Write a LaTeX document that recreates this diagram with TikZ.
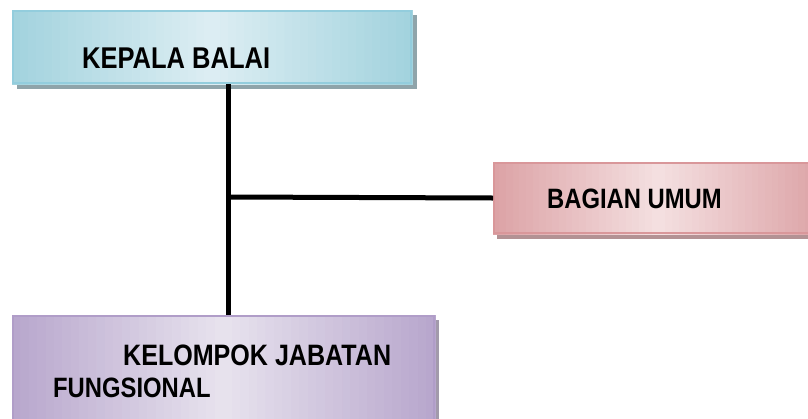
\documentclass[tikz,border=0pt]{standalone}
\usepackage{fontspec}
\setmainfont[FakeStretch=0.85]{Liberation Sans}
\usetikzlibrary{backgrounds,calc}
\definecolor{kepalaedge}{HTML}{93CDDD}
\definecolor{kepalaside}{HTML}{A3D3DE}
\definecolor{kepalamid}{HTML}{DDEEF3}
\definecolor{kepalashadow}{HTML}{8FA4AA}
\definecolor{umumedge}{HTML}{D9979A}
\definecolor{umumside}{HTML}{DCA3A6}
\definecolor{umummid}{HTML}{F4E0E1}
\definecolor{umumshadow}{HTML}{B39294}
\definecolor{kelompokedge}{HTML}{B09DC8}
\definecolor{kelompokside}{HTML}{B8A7CD}
\definecolor{kelompokmid}{HTML}{E8E3EE}
\definecolor{kelompokshadow}{HTML}{A29AAB}
% strips from side colour to middle colour and back
\newcommand{\stripfill}[3]{%
  \foreach \k in {0,...,49}{
    \pgfmathsetmacro{\mix}{100*abs(\k-24.5)/24.5}
    \pgfmathsetmacro{\from}{\k/50}
    \pgfmathsetmacro{\upto}{(\k+1)/50}
    \fill[#2!\mix!#3, draw=#2!\mix!#3, line width=0.6pt]
      ($(#1.north west)!\from!(#1.north east)$) rectangle ($(#1.south west)!\upto!(#1.south east)$);
  }}

\begin{document}
\begin{tikzpicture}[x=1pt, y=-1pt,
  unit/.style={draw, line width=2pt, inner sep=0pt, anchor=north west},
  title/.style={font=\fontsize{28}{31}\selectfont\bfseries, anchor=base west, inner sep=0pt},
  link/.style={line width=5pt}]
\useasboundingbox (0,0) rectangle (808,418);
% boxes
\node[unit, draw=kepalaedge, minimum width=398pt, minimum height=72pt] (kepala) at (12,10) {};
\node[unit, draw=umumedge, minimum width=330pt, minimum height=70pt] (umum) at (493,162) {};
\node[unit, draw=kelompokedge, minimum width=421pt, minimum height=115pt] (kelompok) at (12,315) {};
% shadows and fills
\begin{scope}[on background layer]
\fill[kepalashadow] ([shift={(5,5)}]kepala.north west) rectangle ([shift={(5,5)}]kepala.south east);
\fill[umumshadow] ([shift={(4,5)}]umum.north west) rectangle ([shift={(4,5)}]umum.south east);
\fill[kelompokshadow] ([shift={(4,5)}]kelompok.north west) rectangle ([shift={(4,5)}]kelompok.south east);
\stripfill{kepala}{kepalaside}{kepalamid}
\stripfill{umum}{umumside}{umummid}
\stripfill{kelompok}{kelompokside}{kelompokmid}
\end{scope}
% texts
\node[title, font=\fontsize{30}{33}\selectfont\bfseries] (kepalatext) at (82,68) {KEPALA BALAI};
\node[title] (umumtext) at (547,208) {BAGIAN UMUM};
\node[title, font=\fontsize{29.5}{32}\selectfont\bfseries] (kelompoktext) at (123,365) {KELOMPOK JABATAN};
\node[title] (fungsionaltext) at (53,397) {FUNGSIONAL};
% lines
\coordinate (fork) at (228,197);
\draw[link] (fork |- kepala.south) -- (fork |- kelompok.north);
\draw[link] (fork) -- (umum.west);
\end{tikzpicture}
\end{document}
